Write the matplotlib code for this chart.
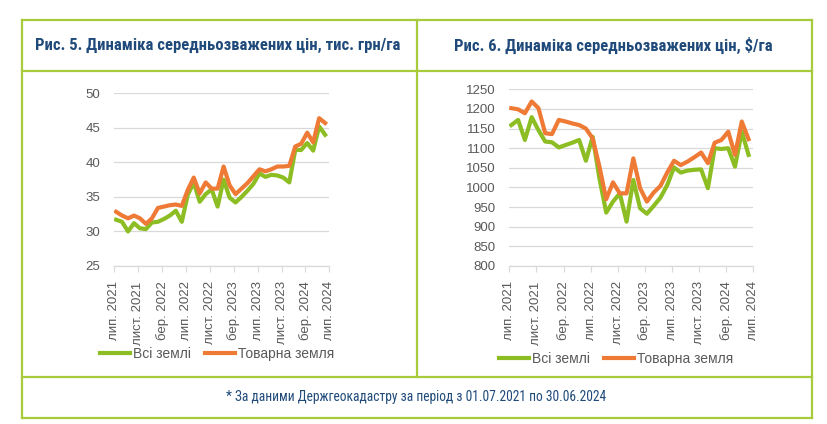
import matplotlib
matplotlib.use('Agg')
import matplotlib.pyplot as plt
import numpy as np
from matplotlib.lines import Line2D
from matplotlib import font_manager

# monthly values, Jul 2021 - Jun 2024
uah_all = [31.7, 31.4, 30.0, 31.2, 30.45, 30.35, 31.3, 31.4, 31.8, 32.3, 33.0, 31.4,
           35.3, 37.1, 34.3, 35.4, 36.1, 33.6, 37.5, 34.9, 34.2, 35.0, 35.9, 36.9,
           38.4, 37.9, 38.2, 38.1, 37.8, 37.1, 41.8, 41.8, 42.8, 41.7, 45.2, 44.0]
uah_market = [32.85, 32.3, 31.9, 32.3, 31.9, 31.1, 31.9, 33.4, 33.6, 33.8, 33.9, 33.7,
              36.0, 37.8, 35.5, 37.1, 36.2, 36.2, 39.4, 36.7, 35.4, 36.2, 37.0, 38.0,
              39.0, 38.7, 39.0, 39.4, 39.4, 39.5, 42.3, 42.7, 44.3, 42.9, 46.4, 45.7]
usd_all = [1159, 1172, 1121, 1179, 1146, 1117, 1115, 1102, 1108, 1114, 1121, 1068,
           1129, 1023, 936, 964, 985, 913, 1019, 947, 933, 953, 974, 1006,
           1051, 1038, 1043, 1045, 1046, 998, 1100, 1098, 1100, 1053, 1142, 1083]
usd_market = [1202, 1199, 1189, 1219, 1202, 1138, 1136, 1172, 1168, 1163, 1159, 1150,
              1125, 1053, 970, 1013, 985, 985, 1074, 998, 964, 987, 1004, 1038,
              1068, 1057, 1066, 1077, 1089, 1062, 1114, 1121, 1142, 1083, 1168, 1123]
tick_labels = ['лип. 2021', 'лист. 2021', 'бер. 2022', 'лип. 2022', 'лист. 2022',
               'бер. 2023', 'лип. 2023', 'лист. 2023', 'бер. 2024', 'лип. 2024']
series_names = ['Всі землі', 'Товарна земля']
titles = ['Рис. 5. Динаміка середньозважених цін, тис. грн/га',
          r'Рис. 6. Динаміка середньозважених цін, \$/га']
footnote = '* За даними Держгеокадастру за період з 01.07.2021 по 30.06.2024'

GREEN = '#8CBD22'
ORANGE = '#EE7A36'
BORDER = '#A8CB3C'
NAVY = '#1F4A7A'
GRAY = '#595959'
GRID = '#D9D9D9'

W, H = 827, 424
plt.rcParams['font.family'] = ['Liberation Sans', 'DejaVu Sans']

installed = {f.name for f in font_manager.fontManager.ttflist}
narrow_font = 'Liberation Sans'
for name in ['Roboto Condensed', 'Liberation Sans Narrow', 'Open Sans Condensed', 'Roboto']:
  if name in installed:
    narrow_font = name
    break
narrow = [narrow_font, 'DejaVu Sans']


def fx(x):
  return x / W


def fy(y):
  return 1 - y / H


def draw_chart(fig, rect, y_all, y_market, ylim, ystep, legend_y, legend_x):
  left, top, right, bottom = rect
  ax = fig.add_axes([fx(left), fy(bottom), fx(right) - fx(left), fy(top) - fy(bottom)])
  x = np.arange(len(y_all)) + 0.3
  ax.plot(x, y_all, color=GREEN, lw=3.0, solid_joinstyle='round', label=series_names[0])
  ax.plot(x, y_market, color=ORANGE, lw=3.0, solid_joinstyle='round', label=series_names[1])
  ax.set_xlim(0, 36)
  ax.set_ylim(*ylim)
  ax.set_yticks(np.arange(ylim[0], ylim[1] + 1, ystep))
  ax.set_xticks(np.arange(0, 37, 4))
  ax.set_xticklabels(tick_labels, rotation=90, fontsize=9.5, color=GRAY)
  ax.tick_params(axis='y', length=0, pad=10, labelsize=9.5, labelcolor=GRAY)
  ax.tick_params(axis='x', length=4, width=0.8, color=GRID, pad=7)
  ax.grid(axis='y', color=GRID, lw=0.9)
  ax.set_axisbelow(True)
  for s in ['top', 'right', 'left']:
    ax.spines[s].set_visible(False)
  ax.spines['bottom'].set_color(GRID)
  ax.spines['bottom'].set_linewidth(0.9)
  ax.legend(loc='center', bbox_to_anchor=(fx(legend_x), fy(legend_y)),
            bbox_transform=fig.transFigure, ncol=2, frameon=False, fontsize=10,
            labelcolor=GRAY, handlelength=2.2, handletextpad=0.2, columnspacing=1.0,
            borderpad=0)
  return ax


def fit_text(fig, txt, width_px, max_size):
  # shrink the font until the text is as wide as in the reference
  renderer = fig.canvas.get_renderer()
  w = txt.get_window_extent(renderer).width
  txt.set_fontsize(min(max_size, txt.get_fontsize() * width_px / w))


fig = plt.figure(figsize=(W / 100, H / 100), dpi=100)

draw_chart(fig, (114.3, 93.3, 329.3, 266), uah_all, uah_market, (25, 50), 5, 354, 217)
draw_chart(fig, (509.3, 89.3, 753.3, 266), usd_all, usd_market, (800, 1250), 50, 359, 616)

# table frame
lines = [((22, 812), (20, 20)), ((22, 812), (71, 71)), ((22, 812), (377, 377)),
         ((22, 812), (418, 418)), ((22, 22), (20, 418)), ((812, 812), (20, 418)),
         ((417, 417), (20, 377))]
for xs, ys in lines:
  fig.add_artist(Line2D([fx(v) for v in xs], [fy(v) for v in ys], color=BORDER, lw=1.6,
                        transform=fig.transFigure, solid_capstyle='projecting'))

t1 = fig.text(fx(218), fy(45.5), titles[0], ha='center', va='center', fontsize=12,
              fontweight='bold', color=NAVY, family=narrow)
t2 = fig.text(fx(613), fy(45.5), titles[1], ha='center', va='center', fontsize=12,
              fontweight='bold', color=NAVY, family=narrow)
t3 = fig.text(fx(416), fy(397.5), footnote, ha='center', va='center', fontsize=10,
              color=NAVY, family=narrow)
fit_text(fig, t1, 374, 12)
fit_text(fig, t2, 326, 12)
fit_text(fig, t3, 379, 10)

fig.savefig('out.png', dpi=100)
